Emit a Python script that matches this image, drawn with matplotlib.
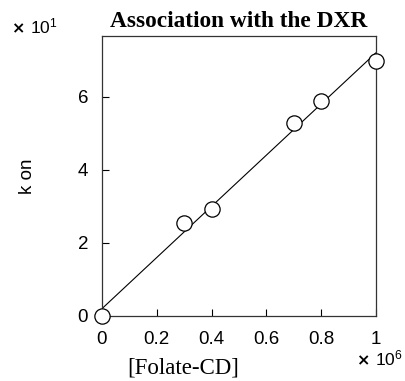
import numpy as np
import matplotlib.pyplot as plt

plt.rcParams["mathtext.fontset"] = "custom"
plt.rcParams["mathtext.rm"] = "Liberation Sans"
plt.rcParams["mathtext.it"] = "Liberation Sans"
plt.rcParams["mathtext.bf"] = "Liberation Sans:bold"

# data (x in units of 1e6, k on in units of 1e1)
conc = [0, 0.3, 0.4, 0.7, 0.8, 1.0]
kon = [0, 2.55, 2.92, 5.27, 5.88, 6.98]

xticks = [0, 0.2, 0.4, 0.6, 0.8, 1]
xticklabels = ["0", "0.2", "0.4", "0.6", "0.8", "1"]
yticks = [0, 2, 4, 6]

fig = plt.figure(figsize=(4.06, 3.81), dpi=100)
ax = fig.add_axes([0.251, 0.171, 0.675, 0.735])

# linear fit
p = np.polyfit(conc, kon, 1)
xl = np.array([0, 1])
ax.plot(xl, np.polyval(p, xl), color="black", lw=0.8, zorder=2)
ax.plot(conc, kon, "o", ms=11, mfc="white", mec="black", mew=0.9,
        clip_on=False, zorder=3)

ax.set_xlim(0, 1)
ax.set_ylim(0, 7.67)
ax.set_xticks(xticks)
ax.set_xticklabels(xticklabels)
ax.set_yticks(yticks)
ax.tick_params(axis="x", direction="in", length=5, width=0.8, labelsize=13.5,
               pad=11, top=False)
ax.tick_params(axis="y", direction="in", length=5, width=0.8, labelsize=13.5,
               pad=10, right=False)
for lbl in ax.get_xticklabels() + ax.get_yticklabels():
    lbl.set_family("Liberation Sans")
for s in ax.spines.values():
    s.set_linewidth(0.9)
    s.set_color("#333333")

ax.set_title("Association with the DXR", family="Liberation Serif",
             fontweight="bold", fontsize=16.8, pad=6)
ax.set_xlabel("[Folate-CD]", family="Liberation Serif", fontsize=16.5)
ax.xaxis.set_label_coords(0.296, -0.15)
ax.set_ylabel("k on", family="Liberation Sans", fontsize=13.5)
ax.yaxis.set_label_coords(-0.24, 0.5)


def mult_label(x, y, exp):
    fig.text(x, y, "×", family="DejaVu Sans", fontweight="bold",
             fontsize=11.5, va="baseline")
    fig.text(x + 0.043, y, "10$^{%d}$" % exp, family="Liberation Sans",
             fontsize=12.5, va="baseline")


mult_label(0.030, 0.913, 1)
mult_label(0.880, 0.042, 6)

fig.savefig("out.png", dpi=100)
